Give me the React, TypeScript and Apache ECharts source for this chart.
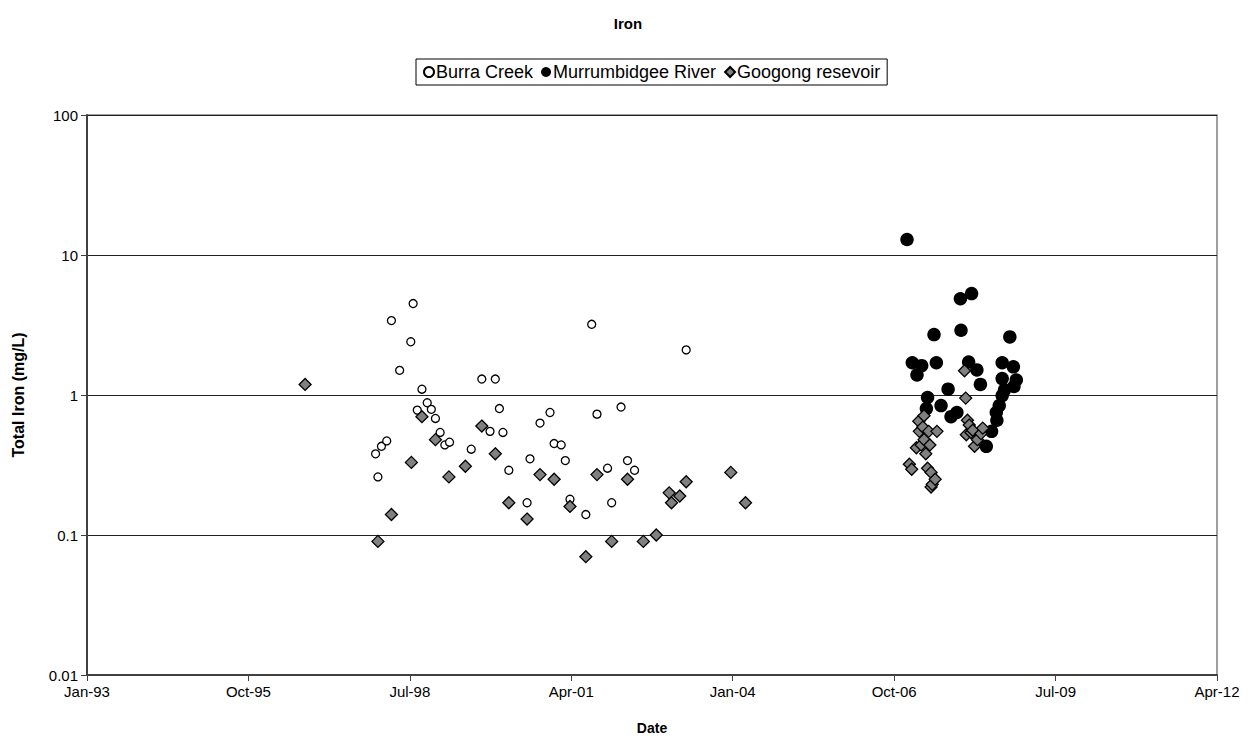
import React, { useEffect, useRef } from "react";
import * as echarts from "echarts";

// Sampling dates as decimal years, iron in mg/L
const burraDates = [1997.92, 1997.96, 1998.02, 1998.11, 1998.19, 1998.33, 1998.52, 1998.56, 1998.63, 1998.71, 1998.80, 1998.87, 1998.94, 1999.02, 1999.10, 1999.18, 1999.55, 1999.73, 1999.87, 1999.96, 2000.03, 2000.09, 2000.19, 2000.50, 2000.55, 2000.72, 2000.89, 2000.96, 2001.08, 2001.15, 2001.23, 2001.50, 2001.60, 2001.69, 2001.87, 2001.94, 2002.10, 2002.21, 2002.33, 2003.21];
const burraIron = [0.38, 0.26, 0.43, 0.47, 3.4, 1.5, 2.4, 4.5, 0.78, 1.1, 0.88, 0.79, 0.68, 0.54, 0.44, 0.46, 0.41, 1.3, 0.55, 1.3, 0.8, 0.54, 0.29, 0.17, 0.35, 0.63, 0.75, 0.45, 0.44, 0.34, 0.18, 0.14, 3.2, 0.73, 0.3, 0.17, 0.82, 0.34, 0.29, 2.1];

const murrDates = [2006.97, 2007.06, 2007.14, 2007.22, 2007.30, 2007.32, 2007.43, 2007.47, 2007.55, 2007.67, 2007.72, 2007.82, 2007.88, 2007.89, 2008.02, 2008.07, 2008.16, 2008.22, 2008.32, 2008.41, 2008.50, 2008.49, 2008.54, 2008.59, 2008.59, 2008.59, 2008.63, 2008.72, 2008.78, 2008.79, 2008.83];
const murrIron = [12.9, 1.7, 1.39, 1.62, 0.8, 0.96, 2.7, 1.7, 0.84, 1.1, 0.7, 0.75, 4.87, 2.9, 1.72, 5.3, 1.51, 1.19, 0.43, 0.55, 0.66, 0.75, 0.84, 0.99, 1.31, 1.7, 1.09, 2.6, 1.59, 1.15, 1.28];

const googDates = [1996.72, 1997.96, 1998.19, 1998.53, 1998.71, 1998.94, 1999.17, 1999.45, 1999.73, 1999.96, 2000.19, 2000.50, 2000.72, 2000.96, 2001.23, 2001.50, 2001.69, 2001.94, 2002.21, 2002.48, 2002.70, 2002.92, 2002.96, 2003.10, 2003.21, 2003.97, 2004.22, 2007.01, 2007.05, 2007.13, 2007.17, 2007.18, 2007.21, 2007.24, 2007.26, 2007.26, 2007.29, 2007.32, 2007.34, 2007.36, 2007.38, 2007.38, 2007.40, 2007.45, 2007.48, 2007.95, 2007.97, 2007.98, 2008.00, 2008.03, 2008.06, 2008.09, 2008.12, 2008.17, 2008.23, 2008.26];
const googIron = [1.19, 0.09, 0.14, 0.33, 0.7, 0.48, 0.26, 0.31, 0.6, 0.38, 0.17, 0.13, 0.27, 0.25, 0.16, 0.07, 0.27, 0.09, 0.25, 0.09, 0.1, 0.2, 0.17, 0.19, 0.24, 0.28, 0.17, 0.32, 0.295, 0.42, 0.65, 0.55, 0.44, 0.59, 0.71, 0.48, 0.38, 0.3, 0.55, 0.44, 0.28, 0.22, 0.23, 0.25, 0.55, 1.49, 0.95, 0.52, 0.66, 0.61, 0.54, 0.56, 0.43, 0.48, 0.53, 0.58];

const yTicks = [0.01, 0.1, 1, 10, 100];
const monthNames = ["Jan", "Feb", "Mar", "Apr", "May", "Jun", "Jul", "Aug", "Sep", "Oct", "Nov", "Dec"];

const DAY = 86400000;
const EPOCH = Date.UTC(1993, 0, 3);
const X_INTERVAL = 1004; // days between date ticks
const X_MAX = 7 * X_INTERVAL;

function toDays(dec: number): number {
  const y = Math.floor(dec);
  const start = Date.UTC(y, 0, 1);
  const end = Date.UTC(y + 1, 0, 1);
  return (start + (dec - y) * (end - start) - EPOCH) / DAY;
}

function pairs(d: number[], v: number[]) {
  return d.map((x, i) => [toDays(x), v[i]]);
}

function dateLabel(v: number): string {
  const dt = new Date(EPOCH + v * DAY);
  const yy = String(dt.getUTCFullYear() % 100).padStart(2, "0");
  return monthNames[dt.getUTCMonth()] + "-" + yy;
}

function yLabel(v: number): string {
  let best = yTicks[0];
  for (const t of yTicks) if (Math.abs(Math.log10(t) - Math.log10(v)) < Math.abs(Math.log10(best) - Math.log10(v))) best = t;
  return String(best);
}

const FONT = "Arial, 'Liberation Sans', sans-serif";

export default function App() {
  const ref = useRef<HTMLDivElement>(null);
  useEffect(() => {
    if (!ref.current) return;
    const chart = echarts.init(ref.current, undefined, { renderer: "svg" });
    chart.setOption({
      animation: false,
      backgroundColor: "#fff",
      textStyle: { fontFamily: FONT },
      title: {
        text: "Iron",
        left: "center",
        top: 11,
        textStyle: { fontFamily: FONT, fontSize: 15, fontWeight: "bold", color: "#000" },
      },
      legend: {
        left: 416,
        top: 59,
        orient: "horizontal",
        borderColor: "#000",
        borderWidth: 1,
        padding: [4, 7, 4, 7],
        itemGap: 8,
        itemWidth: 10,
        itemHeight: 10,
        textStyle: { fontFamily: FONT, fontSize: 18, color: "#000", padding: [0, 0, 0, -3] },
        data: [
          { name: "Burra Creek", itemStyle: { opacity: 1 } },
          { name: "Murrumbidgee River", itemStyle: { opacity: 1 } },
          { name: "Googong resevoir", itemStyle: { opacity: 1 } },
        ],
      },
      grid: { left: 87, right: 39, top: 115, bottom: 67, show: true, borderColor: "#808080", borderWidth: 1.5 },
      xAxis: {
        type: "value",
        min: 0,
        max: X_MAX,
        interval: X_INTERVAL,
        name: "Date",
        nameLocation: "middle",
        nameGap: 46,
        nameTextStyle: { fontFamily: FONT, fontSize: 14, fontWeight: "bold", color: "#000" },
        axisLine: { show: true, onZero: false, lineStyle: { color: "#404040", width: 2 } },
        axisTick: { show: true, inside: false, length: 6, lineStyle: { color: "#404040", width: 1 } },
        axisLabel: { formatter: dateLabel, fontFamily: FONT, fontSize: 15, color: "#000", margin: 9 },
        splitLine: { show: false },
      },
      yAxis: {
        type: "log",
        logBase: 10,
        min: 0.01,
        max: 100,
        name: "Total Iron (mg/L)",
        nameLocation: "middle",
        nameGap: 61,
        nameRotate: 90,
        nameTextStyle: { fontFamily: FONT, fontSize: 16, fontWeight: "bold", color: "#000" },
        axisLine: { show: true, lineStyle: { color: "#404040", width: 2 } },
        axisTick: { show: true, inside: false, length: 6, lineStyle: { color: "#404040", width: 1 } },
        axisLabel: { formatter: yLabel, fontFamily: FONT, fontSize: 15, color: "#000", margin: 9 },
        splitLine: { show: true, lineStyle: { color: "#222", width: 1 } },
        minorTick: { show: false },
        minorSplitLine: { show: false },
      },
      series: [
        {
          name: "Burra Creek",
          type: "scatter",
          symbol: "circle",
          symbolSize: 8,
          itemStyle: { color: "#fff", borderColor: "#000", borderWidth: 1.3, opacity: 1 },
          data: pairs(burraDates, burraIron),
          z: 2,
        },
        {
          name: "Murrumbidgee River",
          type: "scatter",
          symbol: "circle",
          symbolSize: 13.5,
          itemStyle: { color: "#000", borderColor: "#000", borderWidth: 0, opacity: 1 },
          data: pairs(murrDates, murrIron),
          z: 3,
        },
        {
          name: "Googong resevoir",
          type: "scatter",
          symbol: "diamond",
          symbolSize: 12,
          itemStyle: { color: "#808080", borderColor: "#000", borderWidth: 1.3, opacity: 1 },
          data: pairs(googDates, googIron),
          z: 4,
        },
      ],
    });
    return () => chart.dispose();
  }, []);
  return <div ref={ref} style={{ position: "absolute", left: 0, top: 0, width: 1256, height: 742 }} />;
}
